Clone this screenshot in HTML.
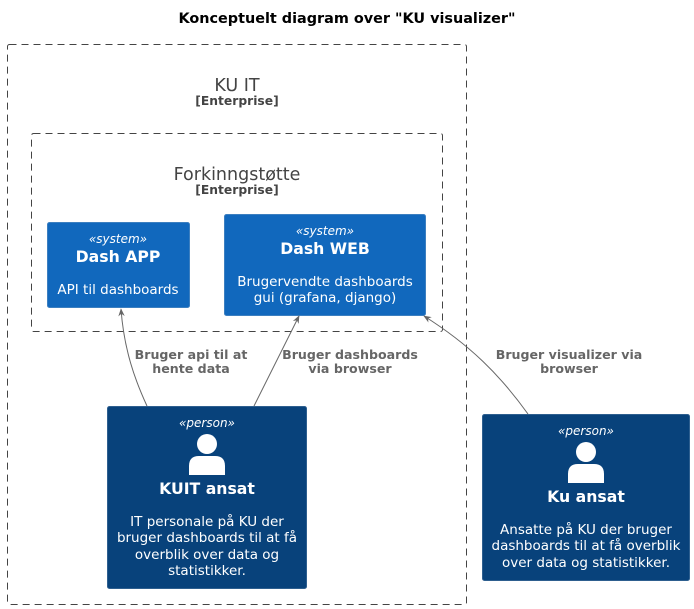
<!DOCTYPE html>
<html><head><meta charset="utf-8"><style>
html,body{margin:0;padding:0;background:#fff;width:694px;height:609px;overflow:hidden}
svg{display:block;font-family:"DejaVu Sans","Liberation Sans",sans-serif}
</style></head><body>
<svg width="694" height="609" viewBox="0 0 694 609" xmlns="http://www.w3.org/2000/svg">
<defs><marker id="a" viewBox="0 0 10 10" refX="9" refY="5" markerWidth="8" markerHeight="8" orient="auto"><path d="M0,1 L10,5 L0,9 L3,5 Z" fill="#666"/></marker></defs>
<text x="347" y="23" font-size="14.4" font-weight="bold" text-anchor="middle" fill="#000">Konceptuelt diagram over "KU visualizer"</text>
<rect x="7.5" y="44.5" width="459" height="560" rx="2" fill="none" stroke="#444" stroke-dasharray="7,5"/>
<text x="237" y="91" font-size="17.5" text-anchor="middle" fill="#444">KU IT</text>
<text x="237" y="105" font-size="12.3" font-weight="bold" text-anchor="middle" fill="#444">[Enterprise]</text>
<rect x="31.5" y="133.5" width="411" height="198" rx="2" fill="none" stroke="#444" stroke-dasharray="7,5"/>
<text x="237" y="180" font-size="17.5" text-anchor="middle" fill="#444">Forkinngstøtte</text>
<text x="237" y="194" font-size="12.3" font-weight="bold" text-anchor="middle" fill="#444">[Enterprise]</text>
<rect x="47.5" y="222.5" width="142" height="85" rx="2" fill="#1168BD" stroke="#3C7FC0"/>
<text x="118" y="243" font-size="12" font-style="italic" text-anchor="middle" fill="#fff">«system»</text>
<text x="118" y="262" font-size="15.7" font-weight="bold" text-anchor="middle" fill="#fff">Dash APP</text>
<text x="118" y="294" font-size="13.5" text-anchor="middle" fill="#fff">API til dashboards</text>
<rect x="224.5" y="214.5" width="201" height="101" rx="2" fill="#1168BD" stroke="#3C7FC0"/>
<text x="325" y="235" font-size="12" font-style="italic" text-anchor="middle" fill="#fff">«system»</text>
<text x="325" y="254" font-size="15.7" font-weight="bold" text-anchor="middle" fill="#fff">Dash WEB</text>
<text x="325" y="286" font-size="13.5" text-anchor="middle" fill="#fff">Brugervendte dashboards</text>
<text x="325" y="302" font-size="13.5" text-anchor="middle" fill="#fff">gui (grafana, django)</text>
<path d="M147,406 C135,380 124,350 121,309" fill="none" stroke="#666" marker-end="url(#a)"/>
<path d="M254,406 L299,316" fill="none" stroke="#666" marker-end="url(#a)"/>
<path d="M528,414 C500,375 470,345 424,316" fill="none" stroke="#666" marker-end="url(#a)"/>
<g font-size="12.6" font-weight="bold" fill="#666" text-anchor="middle">
<text x="191" y="359">Bruger api til at</text><text x="191" y="373">hente data</text>
<text x="350" y="359">Bruger dashboards</text><text x="350" y="373">via browser</text>
<text x="569" y="359">Bruger visualizer via</text><text x="569" y="373">browser</text>
</g>
<rect x="107.5" y="406.5" width="199" height="182" rx="2" fill="#08427B" stroke="#2E5F8F"/>
<text x="207" y="427" font-size="12" font-style="italic" text-anchor="middle" fill="#fff">«person»</text>
<circle cx="207" cy="444" r="10" fill="#fff"/>
<path d="M189,475 L189,466 Q189,456 199,456 L215,456 Q225,456 225,466 L225,475 Z" fill="#fff"/>
<text x="207" y="494" font-size="15.7" font-weight="bold" text-anchor="middle" fill="#fff">KUIT ansat</text>
<g font-size="13.5" text-anchor="middle" fill="#fff">
<text x="207" y="526">IT personale på KU der</text><text x="207" y="542">bruger dashboards til at få</text>
<text x="207" y="559">overblik over data og</text><text x="207" y="575">statistikker.</text></g>
<rect x="482.5" y="414.5" width="207" height="166" rx="2" fill="#08427B" stroke="#2E5F8F"/>
<text x="586" y="435" font-size="12" font-style="italic" text-anchor="middle" fill="#fff">«person»</text>
<circle cx="586" cy="452" r="10" fill="#fff"/>
<path d="M568,483 L568,474 Q568,464 578,464 L594,464 Q604,464 604,474 L604,483 Z" fill="#fff"/>
<text x="586" y="502" font-size="15.7" font-weight="bold" text-anchor="middle" fill="#fff">Ku ansat</text>
<g font-size="13.5" text-anchor="middle" fill="#fff">
<text x="586" y="534">Ansatte på KU der bruger</text><text x="586" y="550">dashboards til at få overblik</text>
<text x="586" y="567">over data og statistikker.</text></g>
</svg>
</body></html>
